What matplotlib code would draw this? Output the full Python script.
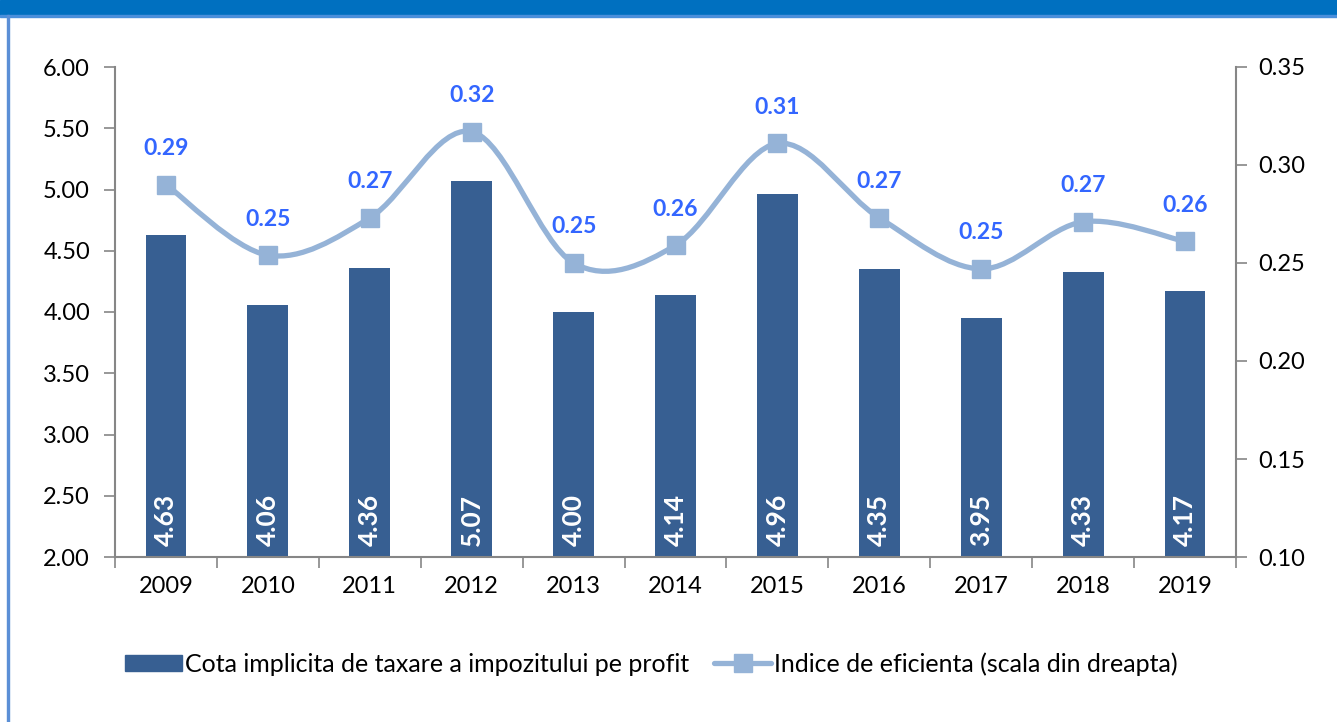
import matplotlib
matplotlib.use("Agg")
import matplotlib.pyplot as plt
from matplotlib.path import Path
from matplotlib.patches import PathPatch, Rectangle
from matplotlib.lines import Line2D
import numpy as np

plt.rcParams['font.family'] = ['Lato', 'DejaVu Sans']

years = ["2009", "2010", "2011", "2012", "2013", "2014", "2015", "2016", "2017", "2018", "2019"]
cota = [4.63, 4.06, 4.36, 5.07, 4.00, 4.14, 4.96, 4.35, 3.95, 4.33, 4.17]
indice = [0.290, 0.254, 0.273, 0.317, 0.250, 0.259, 0.311, 0.273, 0.247, 0.271, 0.261]
indice_labels = ["0.29", "0.25", "0.27", "0.32", "0.25", "0.26", "0.31", "0.27", "0.25", "0.27", "0.26"]
left_ticks = [2.00, 2.50, 3.00, 3.50, 4.00, 4.50, 5.00, 5.50, 6.00]
right_ticks = [0.10, 0.15, 0.20, 0.25, 0.30, 0.35]

bar_color = "#375F92"
line_color = "#95B3D7"
label_blue = "#3366FF"
spine_gray = "#868686"
fs = 17

fig = plt.figure(figsize=(13.37, 7.22), dpi=100)
ax = fig.add_axes([115/1337, 1-557/722, (1236-115)/1337, (557-67)/722])
ax2 = ax.twinx()

x = np.arange(len(years))
ax.bar(x, cota, width=0.4, bottom=0, color=bar_color, zorder=2)
ax.set_ylim(2.0, 6.0)
ax.set_xlim(-0.5, len(years) - 0.5)
ax.set_yticks(left_ticks)
ax.set_yticklabels([f"{v:.2f}" for v in left_ticks], fontsize=fs)
ax.set_xticks(x)
ax.set_xticklabels(years, fontsize=fs)
ax.tick_params(axis='x', length=0, pad=14)
ax.set_xticks(np.arange(-0.5, len(years), 1.0), minor=True)
ax.tick_params(axis='x', which='minor', length=8, width=1.2, color=spine_gray, direction='out')
ax.tick_params(axis='y', length=8, width=1.2, color=spine_gray, direction='out', pad=10)

for v, xi in zip(cota, x):
    ax.annotate(f"{v:.2f}", (xi, 2.0), xytext=(0, 8), textcoords='offset points',
                rotation=90, ha='center', va='bottom', color='white',
                fontsize=19, fontweight='bold', zorder=3)

ax2.set_ylim(0.10, 0.35)
ax2.set_yticks(right_ticks)
ax2.set_yticklabels([f"{v:.2f}" for v in right_ticks], fontsize=fs)
ax2.tick_params(axis='y', length=8, width=1.2, color=spine_gray, direction='out', pad=8)

for a in (ax, ax2):
    a.spines['top'].set_visible(False)
    for s in ('left', 'right', 'bottom'):
        a.spines[s].set_color(spine_gray)
        a.spines[s].set_linewidth(1.5)
ax.spines['right'].set_visible(False)
ax2.spines['left'].set_visible(False)
ax2.spines['bottom'].set_visible(False)

# smooth curve (Catmull-Rom as cubic Bezier)
pts = np.column_stack([x.astype(float), np.array(indice)])
verts = [tuple(pts[0])]
codes = [Path.MOVETO]
n = len(pts)
for i in range(n - 1):
    p0 = pts[i - 1] if i > 0 else pts[i]
    p1 = pts[i]
    p2 = pts[i + 1]
    p3 = pts[i + 2] if i + 2 < n else pts[i + 1]
    c1 = p1 + (p2 - p0) / 6.0
    c2 = p2 - (p3 - p1) / 6.0
    verts += [tuple(c1), tuple(c2), tuple(p2)]
    codes += [Path.CURVE4] * 3
patch = PathPatch(Path(verts, codes), facecolor='none', edgecolor=line_color,
                  linewidth=3.8, capstyle='round', joinstyle='round', zorder=4)
ax2.add_patch(patch)
ax2.plot(x, indice, linestyle='none', marker='s', markersize=13,
         color=line_color, zorder=5)

for xi, v, lab in zip(x, indice, indice_labels):
    ax2.annotate(lab, (xi, v), xytext=(0, 26), textcoords='offset points',
                 ha='center', va='center', color=label_blue,
                 fontsize=16.5, fontweight='bold', zorder=6)

h1 = Rectangle((0, 0), 1, 1, color=bar_color)
h2 = Line2D([], [], color=line_color, linewidth=3.8, marker='s', markersize=13,
            solid_capstyle='round')
fig.legend([h1, h2], ["Cota implicita de taxare a impozitului pe profit",
                      "Indice de eficienta (scala din dreapta)"],
           loc='center', bbox_to_anchor=(0.487, 1 - 664/722), ncol=2,
           frameon=False, fontsize=18, handlelength=2.3, handleheight=0.65,
           handletextpad=0.1, columnspacing=1.0)

# frame decorations
fig.patches.append(Rectangle((0, 1 - 15/722), 1, 15/722, transform=fig.transFigure,
                             color="#0070C0", zorder=0))
fig.patches.append(Rectangle((0, 1 - 17/722), 1, 2/722, transform=fig.transFigure,
                             color="#4A8FDB", zorder=0))
fig.patches.append(Rectangle((7/1337, 0), 2/1337, 1 - 15/722, transform=fig.transFigure,
                             color="#5B8FD6", zorder=0))

fig.savefig("out.png", dpi=100)
